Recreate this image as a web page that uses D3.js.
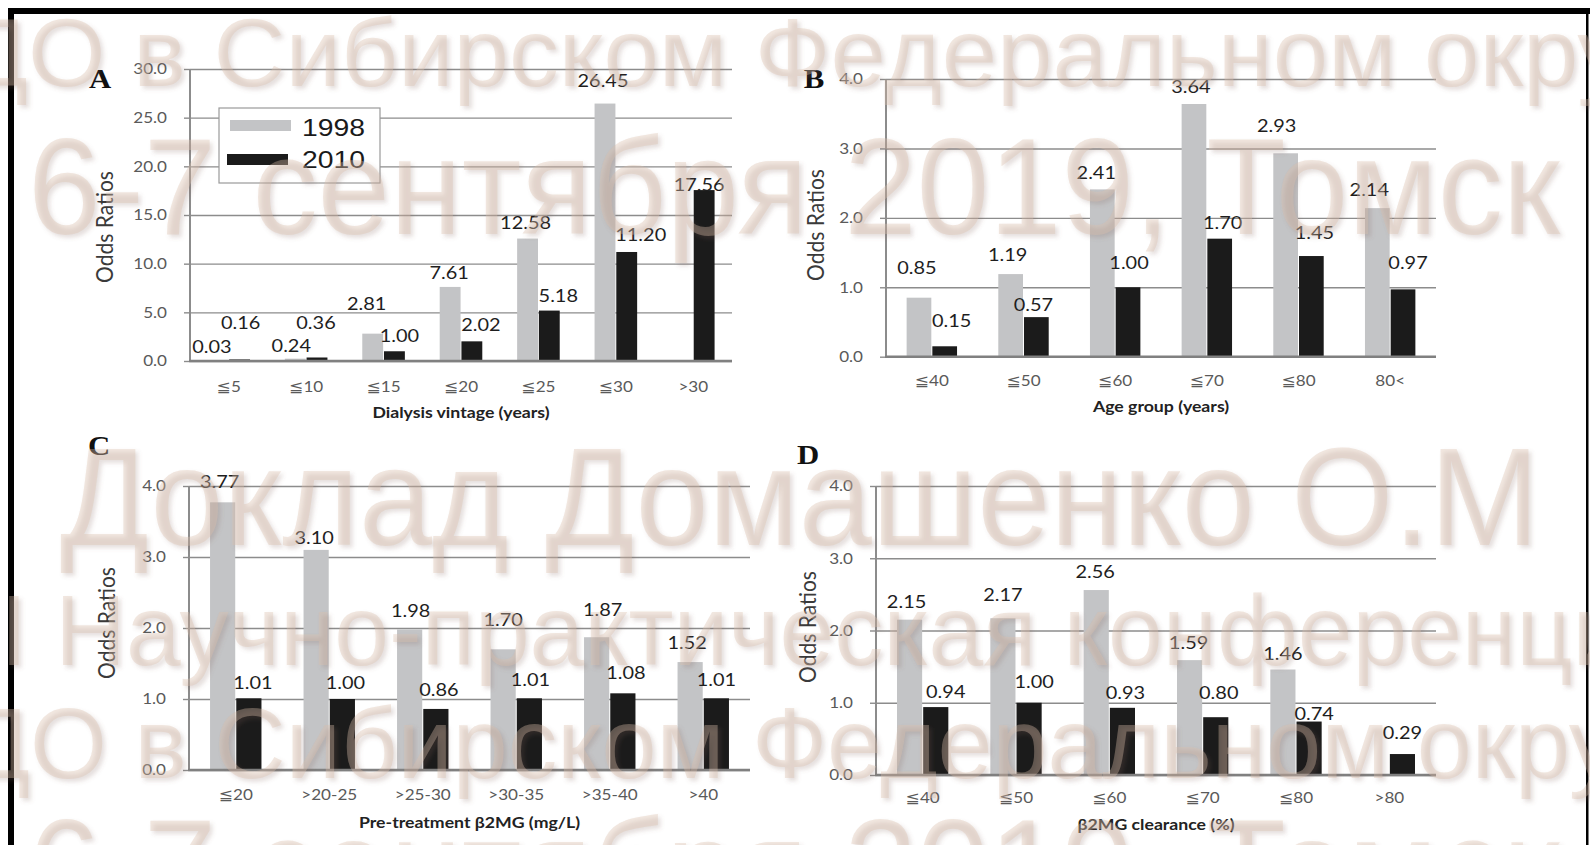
<!DOCTYPE html>
<html><head><meta charset="utf-8">
<script src="https://cdn.jsdelivr.net/npm/d3@7/dist/d3.min.js"></script>
<style>html,body{margin:0;padding:0;background:#fff;}svg{display:block;}</style>
</head><body>
<svg id="chart" width="1590" height="845"></svg>
<script>
// ---------------- data ----------------
const seriesNames = ["1998", "2010"];

const catsA = ["≦5", "≦10", "≦15", "≦20", "≦25", "≦30", ">30"];
const a1998 = [0.03, 0.24, 2.81, 7.61, 12.58, 26.45, null];
const a2010 = [0.16, 0.36, 1.00, 2.02, 5.18, 11.20, 17.56];
const ticksA = [0, 5, 10, 15, 20, 25, 30];

const catsB = ["≦40", "≦50", "≦60", "≦70", "≦80", "80<"];
const b1998 = [0.85, 1.19, 2.41, 3.64, 2.93, 2.14];
const b2010 = [0.15, 0.57, 1.00, 1.70, 1.45, 0.97];

const catsC = ["≦20", ">20-25", ">25-30", ">30-35", ">35-40", ">40"];
const c1998 = [3.77, 3.10, 1.98, 1.70, 1.87, 1.52];
const c2010 = [1.01, 1.00, 0.86, 1.01, 1.08, 1.01];

const catsD = ["≦40", "≦50", "≦60", "≦70", "≦80", ">80"];
const d1998 = [2.15, 2.17, 2.56, 1.59, 1.46, null];
const d2010 = [0.94, 1.00, 0.93, 0.80, 0.74, 0.29];

const ticksBCD = [0, 1, 2, 3, 4];

const yTitle = "Odds Ratios";
const xTitles = ["Dialysis vintage (years)", "Age group (years)", "Pre-treatment β2MG (mg/L)", "β2MG clearance (%)"];
const panelLetters = ["A", "B", "C", "D"];

const watermarkLines = [
  "ДО в Сибирском Федеральном округе",
  "6-7 сентября 2019, Томск",
  "Доклад Домашенко О.М",
  "I Научно-практическая конференция",
  "ДО в Сибирском Федеральном округе",
  "6-7 сентября 2019, Томск"
];

// ---------------- layout (not data) ----------------
const panels = [
  { letter: 0, cats: catsA, s1: a1998, s2: a2010, ticks: ticksA, max: 30,
    left: 190, right: 732, top: 69, bottom: 361, letterPos: [100, 78], yTitlePos: [105, 227], xTitleY: 413, catDy: 26,
    lift1: [14, 13, 30, 14, 16, 23, 0], lift2: [37, 35, 15, 16, 15, 17, 5],
    dx1: [-6, -4, -6, -1, -2, -2, 0], dx2: [1, -1, 5, 9, 9, 14, -5], legend: true },
  { letter: 1, cats: catsB, s1: b1998, s2: b2010, ticks: ticksBCD, max: 4,
    left: 886, right: 1436, top: 79, bottom: 356.7, letterPos: [814, 78], yTitlePos: [816, 225], xTitleY: 407, catDy: 24,
    lift1: [30, 19, 17, 17, 27, 18], lift2: [25, 12, 24, 16, 23, 26],
    dx1: [-2, -3, -6, -3, -9, -8], dx2: [7, -3, 1, 3, 3, 5] },
  { letter: 2, cats: catsC, s1: c1998, s2: c2010, ticks: ticksBCD, max: 4,
    left: 189, right: 750, top: 486, bottom: 770, letterPos: [99, 445], yTitlePos: [107, 623], xTitleY: 823, catDy: 25,
    lift1: [20, 12, 19, 29, 27, 19], lift2: [15, 16, 19, 18, 20, 18],
    dx1: [-3, -2, 1, 0, 6, -3], dx2: [4, 3, 3, 1, 3, 0] },
  { letter: 3, cats: catsD, s1: d1998, s2: d2010, ticks: ticksBCD, max: 4,
    left: 876, right: 1436, top: 486, bottom: 775, letterPos: [808, 454], yTitlePos: [808, 627], xTitleY: 825, catDy: 23,
    lift1: [18, 23, 18, 17, 16, 0], lift2: [15, 21, 15, 24, 8, 21],
    dx1: [-3, 0, -1, -1, 0, 0], dx2: [10, 5, 3, 3, 5, 0] }
];

const colors = { "1998": "#c3c4c6", "2010": "#1b1b1b" };
const gridColor = "#8c8c8c";
const SX = 1.14; // horizontal stretch of the original figure's text

const svg = d3.select("#chart");

function stretchedText(g, x, y, txt, opts) {
  return g.append("text")
    .attr("transform", `translate(${x},${y}) scale(${opts.sx || SX},1)`)
    .attr("text-anchor", opts.anchor || "middle")
    .attr("dy", opts.dy || "0.35em")
    .style("font-family", opts.family || "Lato, 'Open Sans', sans-serif")
    .style("font-size", opts.size + "px")
    .style("font-weight", opts.weight || "normal")
    .attr("fill", opts.fill || "#222")
    .text(txt);
}

panels.forEach(p => {
  const g = svg.append("g");
  const x0 = d3.scaleBand().domain(p.cats).range([p.left, p.right]).paddingInner(0.45).paddingOuter(0.225);
  const x1 = d3.scaleBand().domain(seriesNames).range([0, x0.bandwidth()]).paddingInner(0.04);
  const y = d3.scaleLinear().domain([0, p.max]).range([p.bottom, p.top]);
  const w = p.right - p.left;

  // gridlines
  const grid = g.append("g").attr("transform", `translate(${p.left},0)`)
    .call(d3.axisLeft(y).tickValues(p.ticks).tickSize(-w).tickFormat(""));
  grid.select(".domain").remove();
  grid.selectAll("line").attr("stroke", gridColor).attr("stroke-width", 1.4);

  // y axis with outside ticks + labels
  const yAx = g.append("g").attr("transform", `translate(${p.left},0)`)
    .call(d3.axisLeft(y).tickValues(p.ticks).tickSize(6).tickPadding(0).tickFormat(d3.format(".1f")));
  yAx.select(".domain").attr("stroke", gridColor).attr("stroke-width", 2).attr("d", `M0,${p.top}V${p.bottom}`);
  yAx.selectAll(".tick line").attr("stroke", gridColor).attr("stroke-width", 1.4);
  yAx.selectAll(".tick text")
    .attr("x", null)
    .attr("transform", `translate(-23,0) scale(${SX},1)`)
    .attr("text-anchor", "end")
    .style("font-family", "Lato, 'Open Sans', sans-serif")
    .style("font-size", "15px")
    .attr("fill", "#5a5a5a");

  // bars
  const rows = p.cats.map((c, i) => ({ cat: c, i, vals: [p.s1[i], p.s2[i]] }));
  const grp = g.selectAll("g.cat").data(rows).enter().append("g").attr("class", "cat")
    .attr("transform", d => `translate(${x0(d.cat)},0)`);
  grp.selectAll("rect").data(d => d.vals.map((v, k) => ({ v, k })).filter(e => e.v != null))
    .enter().append("rect")
    .attr("x", e => x1(seriesNames[e.k]))
    .attr("width", x1.bandwidth())
    .attr("y", e => y(e.v))
    .attr("height", e => y(0) - y(e.v))
    .attr("fill", e => colors[seriesNames[e.k]]);

  // baseline
  g.append("line").attr("x1", p.left - 1).attr("x2", p.right).attr("y1", y(0)).attr("y2", y(0))
    .attr("stroke", "#808080").attr("stroke-width", 2.6);

  // value labels
  rows.forEach(r => {
    r.vals.forEach((v, k) => {
      if (v == null) return;
      const lift = k === 0 ? p.lift1[r.i] : p.lift2[r.i];
      const dx = k === 0 ? p.dx1[r.i] : p.dx2[r.i];
      const cx = x0(r.cat) + x1(seriesNames[k]) + x1.bandwidth() / 2 + dx;
      stretchedText(g, cx, y(v) - lift, v.toFixed(2), { size: 17.5, fill: "#1e1e1e" });
    });
  });

  // x axis category labels
  const xAx = g.append("g").attr("transform", `translate(0,${y(0)})`)
    .call(d3.axisBottom(x0).tickSize(0).tickPadding(0));
  xAx.select(".domain").remove();
  xAx.selectAll(".tick text")
    .attr("y", p.catDy).attr("dy", "0.35em")
    .attr("transform", `scale(${SX},1)`)
    .style("font-family", "Lato, 'DejaVu Sans', sans-serif")
    .style("font-size", "15px")
    .attr("fill", "#5a5a5a");

  // titles
  stretchedText(g, (p.left + p.right) / 2, p.xTitleY, xTitles[p.letter], { size: 15.5, weight: "bold", fill: "#222" });
  g.append("text")
    .attr("transform", `translate(${p.yTitlePos[0]},${p.yTitlePos[1]}) rotate(-90) scale(1,${SX})`)
    .attr("text-anchor", "middle").attr("dy", "0.35em")
    .style("font-family", "Lato, 'Open Sans', sans-serif").style("font-size", "21px")
    .attr("fill", "#3a3a3a").text(yTitle);
  stretchedText(g, p.letterPos[0], p.letterPos[1], panelLetters[p.letter],
    { size: 28, weight: "bold", family: "'Liberation Serif', 'DejaVu Serif', serif", fill: "#111", sx: 1.1 });

  // legend
  if (p.legend) {
    const lg = g.append("g").attr("transform", `translate(${p.left + 29},${p.top + 39})`);
    lg.append("rect").attr("width", 161).attr("height", 75).attr("fill", "#fff").attr("stroke", "#9a9a9a").attr("stroke-width", 1.2);
    seriesNames.forEach((s, k) => {
      lg.append("rect").attr("x", k === 0 ? 11 : 8).attr("y", k === 0 ? 12 : 46).attr("width", 61).attr("height", 11)
        .attr("fill", colors[s]);
      stretchedText(lg, 83, k === 0 ? 20 : 52, s, { size: 24, anchor: "start", family: "'Liberation Sans', Arial, sans-serif", fill: "#1a1a1a", sx: 1.18 });
    });
  }
});

// frame
svg.append("rect").attr("x", 8).attr("y", 8).attr("width", 1582).attr("height", 6).attr("fill", "#000");
svg.append("rect").attr("x", 8).attr("y", 8).attr("width", 6).attr("height", 837).attr("fill", "#000");
svg.append("rect").attr("x", 1586).attr("y", 8).attr("width", 2.5).attr("height", 837).attr("fill", "#000");

// watermark overlay: each row anchored by two character positions (index -1 = end of text)
const wmLayout = [
  { size: 96,  y: 86,  a: [1, 28],  b: [15, 755] },
  { size: 138, y: 234, a: [0, 28],  b: [-1, 1560] },
  { size: 140, y: 545, a: [0, 60],  b: [11, 872] },
  { size: 100, y: 665, a: [2, 55],  b: [22, 1064] },
  { size: 100, y: 778, a: [1, 30],  b: [15, 752] },
  { size: 138, y: 915, a: [0, 28],  b: [-1, 1560] }
];
const defs = svg.append("defs");
defs.append("filter").attr("id", "wmblur").attr("x", "-5%").attr("y", "-20%").attr("width", "110%").attr("height", "140%")
  .append("feGaussianBlur").attr("stdDeviation", 2.2);
const wg = svg.append("g").style("pointer-events", "none");
watermarkLines.forEach((t, i) => {
  const r = wmLayout[i];
  const row = wg.append("g");
  const mk = (fill, off, filt) => {
    const el = row.append("text").attr("x", off).attr("y", off)
      .style("font-family", "'Liberation Sans', Arial, sans-serif").style("font-size", r.size + "px")
      .attr("fill", fill).text(t);
    if (filt) el.attr("filter", "url(#wmblur)");
    return el;
  };
  mk("rgba(130,100,90,0.2)", 3, true);
  const main = mk("rgba(218,192,172,0.36)", 0, false);
  const n = main.node();
  const pos = idx => idx < 0 ? n.getEndPositionOfChar(t.length - 1).x : n.getStartPositionOfChar(idx).x;
  const p1 = pos(r.a[0]);
  const p2 = pos(r.b[0]);
  const sx = (r.b[1] - r.a[1]) / (p2 - p1);
  const tx = r.a[1] - sx * p1;
  row.attr("transform", `translate(${tx},${r.y}) scale(${sx},1)`);
});
</script>
</body></html>
